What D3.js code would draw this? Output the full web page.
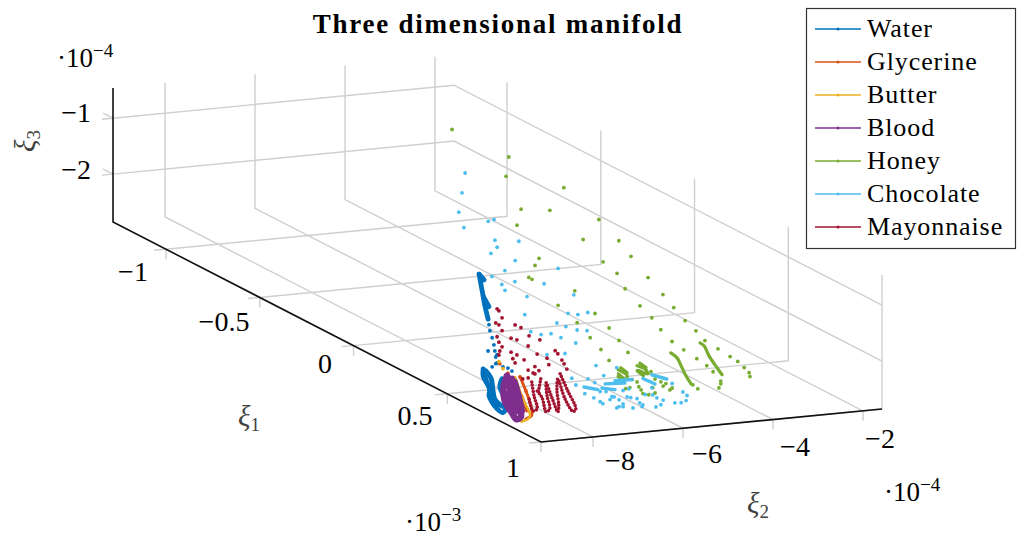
<!DOCTYPE html>
<html>
<head>
<meta charset="utf-8">
<script src="https://cdn.jsdelivr.net/npm/d3@7"></script>
<style>
body { margin: 0; background: #fff; }
svg { display: block; }
text { font-family: "Liberation Serif", serif; fill: #000; }
.grid { stroke: #cfcfcf; stroke-width: 1.4; fill: none; }
.axis { stroke: #111; stroke-width: 1.6; fill: none; }
</style>
</head>
<body>
<svg id="chart" width="1021" height="536"></svg>
<script>
const seriesNames = ["Water", "Glycerine", "Butter", "Blood", "Honey", "Chocolate", "Mayonnaise"];
const seriesColors = ["#0072BD", "#D95319", "#EDB120", "#7E2F8E", "#77AC30", "#4DBEEE", "#A2142F"];

const xi1Ticks = [-1, -0.5, 0, 0.5, 1];
const xi2Ticks = [-8, -6, -4, -2];
const xi3Ticks = [-1, -2];
const xi1Labels = ["−1", "−0.5", "0", "0.5", "1"];
const xi2Labels = ["−8", "−6", "−4", "−2"];
const xi3Labels = ["−1", "−2"];

// scattered samples: [xi1, xi2, xi3]
const waterDots = [[.75,-9.25,-1.29],[.75,-9.27,-1.18],[.75,-9.20,-1.42],[.75,-9.16,-1.55],[.75,-9.14,-1.66],[.75,-9.12,-1.77],[.75,-9.09,-1.88],
  [.75,-9.29,-1.65],[.75,-9.09,-1.73],[.75,-9.12,-1.89],[.75,-9.20,-1.94],[.75,-8.96,-1.96],[.75,-8.85,-1.99],[.75,-8.76,-2.05]];
const glycerineDots = [[.75,-9.03,-1.90],[.75,-8.85,-2.08],[.75,-8.58,-2.17],[.75,-8.45,-2.43]];
const butterDots = [[.75,-9.05,-1.86],[.75,-8.96,-1.99],[.75,-8.54,-2.96]];
const bloodDots = [];
const honeyDots = [[-1,-2.80,-1.21],[-1,-1.54,-1.80],[-1,-1.60,-2.14],
  [-.5,-2.40,-1.42],[-.5,-3.35,-1.73],[-.5,-2.71,-1.80],[-.5,-1.62,-2.05],[-.5,-3.44,-2.01],[-.5,-1.97,-2.38],[-.5,-2.95,-2.64],[-.5,-3.04,-2.76],
  [0,-3.26,-1.44],[0,-2.99,-1.74],[0,-3.61,-1.79],[0,-3.30,-2.02],[0,-2.61,-2.15],[0,-5.26,-1.94],[0,-5.19,-1.98],[0,-3.12,-2.31],[0,-4.24,-2.26],
  [0,-2.28,-2.48],[0,-4.61,-2.49],[0,-2.79,-2.64],[0,-2.04,-2.73],[0,-3.79,-2.70],
  [.5,-4.61,-1.85],[.5,-3.87,-1.96],[.5,-6.27,-1.81],[.5,-5.56,-1.96],[.5,-4.41,-2.08],[.5,-3.63,-2.16],[.5,-5.98,-2.10],[.5,-5.34,-2.20],[.5,-4.16,-2.31],
  [.5,-3.43,-2.35],[.5,-5.74,-2.33],[.5,-5.14,-2.43],[.5,-3.90,-2.48],[.5,-3.14,-2.52],[.5,-5.56,-2.54],[.5,-3.61,-2.66],[.5,-2.87,-2.68],[.5,-2.70,-2.78],
  [.75,-3.60,-2.39],[.75,-3.49,-2.49],[.75,-3.47,-2.56],[.75,-4.29,-2.41],[.75,-4.43,-2.29],[.75,-5.67,-2.30],[.75,-5.85,-2.34],[.75,-5.74,-2.33],[.75,-6.09,-2.41],
  [.75,-6.23,-2.56],[.75,-5.94,-2.55],[.75,-5.89,-2.61],[.75,-5.85,-2.68],[.75,-5.98,-2.46],[.75,-5.58,-2.44],[.75,-5.45,-2.50],[.75,-5.34,-2.54],[.75,-5.40,-2.58],
  [.75,-5.63,-2.59],[.75,-5.58,-2.69],[.75,-5.72,-2.71],[.75,-5.25,-2.66],[.75,-5.20,-2.63],[.75,-6.14,-2.55],[.75,-4.74,-2.61],[.75,-4.63,-2.69],[.75,-4.12,-2.59],
  [.75,-4.12,-2.64],[.75,-4.16,-2.71]];
const chocolateDots = [[-1,-2.51,-2.01],[-1,-2.58,-2.36],[-1,-2.65,-2.70],
  [-.5,-4.62,-1.96],[-.5,-3.95,-1.87],[-.5,-4.08,-1.89],[-.5,-3.93,-2.24],[-.5,-3.40,-2.30],[-.5,-3.88,-2.37],[-.5,-4.02,-2.47],[-.5,-3.48,-2.64],[-.5,-3.71,-2.80],
  [0,-4.61,-1.83],[0,-6.08,-1.86],[0,-5.57,-1.99],[0,-4.92,-2.08],[0,-5.86,-2.02],[0,-5.79,-2.13],[0,-4.26,-2.33],[0,-5.30,-2.28],[0,-5.35,-2.60],[0,-4.39,-2.65],
  [0,-4.17,-2.69],[0,-3.95,-2.67],
  [.5,-6.72,-1.78],[.5,-6.52,-1.86],[.5,-6.27,-1.94],[.5,-6.05,-1.97],[.5,-7.30,-1.89],[.5,-7.07,-1.96],[.5,-6.85,-1.96],[.5,-6.63,-2.05],[.5,-6.30,-2.17],
  [.5,-6.94,-2.33],[.5,-6.54,-2.34],[.5,-5.85,-2.61],
  [.75,-7.43,-2.28],[.75,-6.72,-2.29],[.75,-6.43,-2.17],[.75,-7.07,-2.32],[.75,-7.34,-2.41],[.75,-6.92,-2.40],[.75,-7.14,-2.58],[.75,-6.94,-2.67],[.75,-6.80,-2.57],
  [.75,-6.80,-2.75],[.75,-6.74,-2.79],[.75,-6.67,-2.58],[.75,-6.58,-2.73],[.75,-6.54,-2.68],[.75,-6.49,-2.69],[.75,-6.38,-2.75],[.75,-6.29,-2.59],[.75,-6.20,-2.71],
  [.75,-6.12,-2.73],[.75,-6.16,-2.57],[.75,-6.43,-2.89],[.75,-6.38,-2.87],[.75,-6.29,-2.83],[.75,-6.29,-2.88],[.75,-6.07,-2.92],[.75,-5.98,-2.76],[.75,-5.92,-2.84],
  [.75,-5.85,-2.88],[.75,-5.87,-2.91],[.75,-5.80,-2.70],[.75,-5.65,-2.59],[.75,-5.63,-2.72],[.75,-5.56,-2.94],[.75,-5.54,-2.78],[.75,-5.45,-2.91],[.75,-5.40,-2.83],
  [.75,-5.14,-2.90],[.75,-5.00,-2.91],[.75,-4.89,-2.88],[.75,-4.87,-2.79],[.75,-4.96,-2.72],[.75,-5.20,-2.55]];
const mayonnaiseDots = [[.75,-9.09,-.91],[.75,-9.05,-.95],[.75,-8.98,-1.08],[.75,-9.12,-1.16],[.75,-9.05,-1.20],[.75,-8.69,-1.23],[.75,-8.56,-1.29],[.75,-8.98,-1.31],
  [.75,-9.09,-1.41],[.75,-8.78,-1.46],[.75,-8.65,-1.50],[.75,-8.38,-1.45],[.75,-8.14,-1.54],[.75,-9.05,-1.51],[.75,-8.98,-1.60],[.75,-8.40,-1.63],[.75,-8.78,-1.71],
  [.75,-8.65,-1.77],[.75,-9.03,-1.67],[.75,-9.05,-1.74],[.75,-8.20,-1.79],[.75,-7.80,-1.76],[.75,-7.74,-1.82],[.75,-8.49,-1.87],[.75,-7.98,-1.88],[.75,-7.65,-1.94],
  [.75,-8.74,-1.83],[.75,-8.69,-1.91],[.75,-8.25,-2.01],[.75,-7.94,-2.00],[.75,-7.60,-2.01],[.75,-8.16,-2.09],[.75,-8.25,-2.14],[.75,-8.40,-2.06],[.75,-8.29,-2.12],
  [.75,-8.40,-2.20],[.75,-8.52,-2.21],[.75,-7.54,-2.11]];

// densely sampled runs, all near xi1 = 0.75: [xi2, xi3]
const strandXi1 = 0.75;
const waterStrands = [
  [[-9.49,-.26],[-9.45,-.44],[-9.40,-.66],[-9.36,-.84],[-9.29,-1.08]],
  [[-9.49,-.26],[-9.38,-.37]],
  [[-9.40,-.66],[-9.27,-.86]],
  [[-9.40,-1.96],[-9.40,-2.09],[-9.32,-2.22],[-9.25,-2.33],[-9.27,-2.45],[-9.20,-2.58],[-9.09,-2.70],[-8.96,-2.78],[-8.90,-2.71],[-9.03,-2.63],[-9.14,-2.52],[-9.18,-2.37],[-9.22,-2.15],[-9.34,-2.00]],
  [[-9.36,-2.10],[-9.28,-2.28],[-9.22,-2.42]],
  [[-8.98,-2.17],[-9.03,-2.31],[-8.96,-2.46],[-8.92,-2.62]]
];
const glycerineStrands = [
  [[-8.58,-2.17],[-8.45,-2.43],[-8.34,-2.70],[-8.32,-2.87],[-8.45,-2.93]],
  [[-8.54,-2.51],[-8.43,-2.79]]
];
const butterStrands = [
  [[-8.69,-2.16],[-8.52,-2.56],[-8.36,-2.88],[-8.49,-2.96],[-8.67,-2.91]]
];
const bloodStrands = [
  [[-8.87,-2.13],[-8.94,-2.30],[-8.92,-2.57],[-8.76,-2.80],[-8.66,-2.92],[-8.56,-2.88],[-8.62,-2.60],[-8.68,-2.38],[-8.76,-2.19]],
  [[-8.80,-2.31],[-8.76,-2.58],[-8.63,-2.77],[-8.72,-2.44],[-8.87,-2.13]],
  [[-8.85,-2.45],[-8.72,-2.70],[-8.62,-2.78],[-8.66,-2.50]],
  [[-8.70,-2.25],[-8.60,-2.55],[-8.54,-2.78]]
];
const honeyStrands = [
  [[-5.23,-2.00],[-5.09,-2.10],[-5.00,-2.25],[-4.89,-2.44],[-4.78,-2.59]],
  [[-4.58,-1.87],[-4.49,-1.93],[-4.38,-2.12],[-4.20,-2.35],[-4.09,-2.48]],
  [[-6.40,-2.21],[-6.20,-2.33],[-6.23,-2.40],[-6.40,-2.28],[-6.32,-2.38]],
  [[-6.34,-2.18],[-6.20,-2.28]],
  [[-6.40,-2.33],[-6.28,-2.42]],
  [[-5.98,-2.17],[-5.78,-2.26],[-5.76,-2.33],[-5.96,-2.25],[-5.87,-2.31]],
  [[-5.92,-2.13],[-5.78,-2.22]],
  [[-5.98,-2.26],[-5.84,-2.36]]
];
const chocolateStrands = [
  [[-7.16,-2.46],[-6.85,-2.53]],
  [[-6.76,-2.51],[-6.47,-2.56]],
  [[-6.69,-2.44],[-6.25,-2.46]],
  [[-6.47,-2.40],[-6.09,-2.41]],
  [[-5.85,-2.41],[-5.58,-2.53]],
  [[-5.65,-2.36],[-5.32,-2.46]]
];
const mayonnaiseStrands = [
  [[-7.69,-2.18],[-7.52,-2.50],[-7.34,-2.84],[-7.40,-2.88],[-7.58,-2.64],[-7.74,-2.27],[-7.76,-2.48],[-7.72,-2.75],[-7.74,-2.86],[-7.87,-2.60],[-8.00,-2.32],[-7.98,-2.55],[-7.92,-2.79],[-8.00,-2.84],[-8.09,-2.58],[-8.20,-2.45]],
  [[-8.12,-2.24],[-8.18,-2.50]],
  [[-8.32,-2.28],[-8.27,-2.53],[-8.20,-2.77],[-8.29,-2.80],[-8.38,-2.57]]
];

const seriesDots = [waterDots, glycerineDots, butterDots, bloodDots, honeyDots, chocolateDots, mayonnaiseDots];
const seriesStrands = [waterStrands, glycerineStrands, butterStrands, bloodStrands, honeyStrands, chocolateStrands, mayonnaiseStrands];
const strandWidths = [4.8, 3, 2.4, 6.5, 3.2, 3.4, 3.6];
const strandDashes = [null, null, null, null, null, null, "0 3.2"];

const xi1Range = [-1.283, 1];
const xi2Range = [-9.156, -1.578];
const xi3Range = [-2.857, -0.46];

// oblique projection: each axis gets its own screen scale
const originX = 113, originY = 222;
const xi1ToX = d3.scaleLinear().domain(xi1Range).range([0, 428]);
const xi1ToY = d3.scaleLinear().domain(xi1Range).range([0, 220]);
const xi2ToX = d3.scaleLinear().domain(xi2Range).range([0, 341]);
const xi2ToY = d3.scaleLinear().domain(xi2Range).range([0, -33]);
const xi3ToY = d3.scaleLinear().domain(xi3Range).range([0, -134]);

const project = (a, b, c) => [
  originX + xi1ToX(a) + xi2ToX(b),
  originY + xi1ToY(a) + xi2ToY(b) + xi3ToY(c)
];
const pathOf = d3.line();
const strandPath = d3.line().curve(d3.curveCatmullRom);

const svg = d3.select("#chart");
const [aMin, aMax] = xi1Range, [bMin, bMax] = xi2Range, [cMin, cMax] = xi3Range;

// grid
const gridG = svg.append("g").attr("class", "grid");
xi1Ticks.forEach(a => {
  const start = project(a, bMin, cMin);
  gridG.append("path").attr("d", pathOf([[start[0] - 12, start[1] + 1], start, project(a, bMax, cMin), project(a, bMax, cMax)]));
  gridG.append("path").attr("d", pathOf([start, [start[0], start[1] + 10]]));
});
xi2Ticks.forEach(b => {
  const start = project(aMax, b, cMin);
  gridG.append("path").attr("d", pathOf([[start[0], start[1] + 10], start, project(aMin, b, cMin), project(aMin, b, cMax)]));
});
xi3Ticks.forEach(c => {
  const start = project(aMin, bMin, c);
  gridG.append("path").attr("d", pathOf([[start[0] - 11, start[1] + 1], start, project(aMin, bMax, c), project(aMax, bMax, c)]));
  gridG.append("path").attr("d", pathOf([[start[0] - 10, start[1] - 5], start]));
});

// data
seriesNames.forEach((name, i) => {
  const g = svg.append("g").attr("class", name);
  g.selectAll("path").data(seriesStrands[i]).enter().append("path")
    .attr("d", d => strandPath(d.map(p => project(strandXi1, p[0], p[1]))))
    .attr("fill", "none")
    .attr("stroke", seriesColors[i])
    .attr("stroke-width", strandWidths[i])
    .attr("stroke-dasharray", strandDashes[i])
    .attr("stroke-linejoin", "round")
    .attr("stroke-linecap", "round");
  g.selectAll("circle").data(seriesDots[i]).enter().append("circle")
    .attr("cx", d => project(d[0], d[1], d[2])[0])
    .attr("cy", d => project(d[0], d[1], d[2])[1])
    .attr("r", 1.9)
    .attr("fill", seriesColors[i]);
});

// axis lines
const axisG = svg.append("g").attr("class", "axis");
axisG.append("path").attr("d", pathOf([project(aMin, bMin, cMax), project(aMin, bMin, cMin), project(aMax, bMin, cMin), project(aMax, bMax, cMin)]));

// labels
const addText = (x, y, str, size, anchor) => svg.append("text")
  .attr("x", x).attr("y", y).attr("font-size", size)
  .attr("text-anchor", anchor || "middle").text(str);

const xi1LabelPos = [[133, 281], [224, 331], [325, 373], [415, 425], [513, 477]];
const xi2LabelPos = [[620, 470], [707, 463], [795, 456], [880, 448]];
const xi3LabelPos = [[91, 122], [91, 179]];
xi1Labels.forEach((s, i) => addText(xi1LabelPos[i][0], xi1LabelPos[i][1], s, 28));
xi2Labels.forEach((s, i) => addText(xi2LabelPos[i][0], xi2LabelPos[i][1], s, 28));
xi3Labels.forEach((s, i) => addText(xi3LabelPos[i][0], xi3LabelPos[i][1], s, 28, "end"));

const addPower = (x, y, exp) => {
  const t = svg.append("text").attr("x", x).attr("y", y).attr("font-size", 27);
  t.append("tspan").text("·10");
  t.append("tspan").attr("font-size", 19).attr("dy", -10).text(exp);
};
addPower(57, 67, "−4");
addPower(884, 501, "−4");
addPower(405, 531, "−3");

const addSymbol = (x, y, sub, rotate) => {
  const t = svg.append("text").attr("x", x).attr("y", y).attr("font-size", 29).attr("text-anchor", "middle").style("fill", "#404040");
  if (rotate) t.attr("transform", `rotate(-90 ${x} ${y})`);
  t.append("tspan").attr("font-style", "italic").text("ξ").style("fill", "#404040");
  t.append("tspan").attr("font-size", 19).attr("dy", 5).text(sub).style("fill", "#404040");
};
addSymbol(249, 426, "1");
addSymbol(758, 513, "2");
addSymbol(35, 141, "3", true);

svg.append("text").attr("x", 498).attr("y", 33).attr("text-anchor", "middle")
  .attr("font-size", 27).attr("font-weight", "bold").attr("letter-spacing", 1.75)
  .text("Three dimensional manifold");

// legend
const legend = svg.append("g");
legend.append("rect").attr("x", 806.5).attr("y", 8.5).attr("width", 209).attr("height", 240)
  .attr("fill", "#fff").attr("stroke", "#333").attr("stroke-width", 1.2);
const legendY = d3.scalePoint().domain(seriesNames).range([29, 227]);
seriesNames.forEach((name, i) => {
  const y = legendY(name);
  legend.append("line").attr("x1", 815).attr("x2", 861).attr("y1", y).attr("y2", y)
    .attr("stroke", seriesColors[i]).attr("stroke-width", 1.4);
  legend.append("circle").attr("cx", 838).attr("cy", y).attr("r", 1.5).attr("fill", seriesColors[i]);
  legend.append("text").attr("x", 867).attr("y", y + 8).attr("font-size", 26)
    .attr("letter-spacing", 0.9).text(name);
});
</script>
</body>
</html>
